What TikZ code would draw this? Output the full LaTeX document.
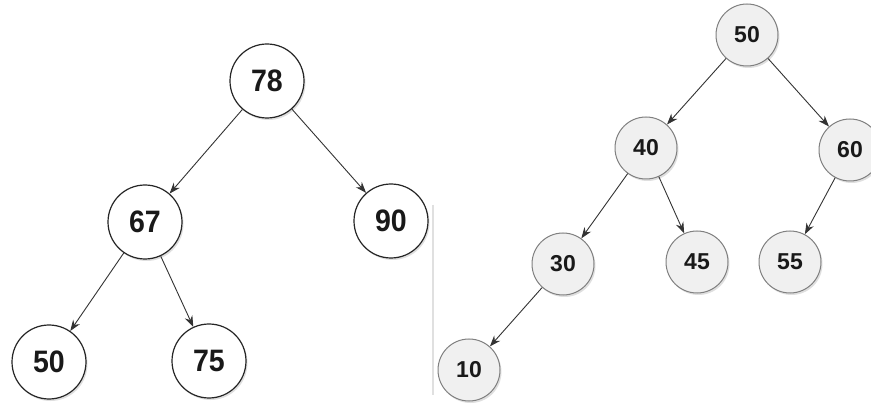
\documentclass[tikz,border=0pt]{standalone}
\usepackage{fontspec}
\setmainfont{Liberation Sans}
\usetikzlibrary{shadows,arrows.meta}
\newcommand{\narrowtxt}[1]{\scalebox{0.92}[1]{#1}}
\begin{document}
\begin{tikzpicture}[x=1pt,y=-1pt,
 lnode/.style={circle,draw=black!85,line width=1.2pt,fill=white,minimum size=74pt,inner sep=0pt,
   font=\fontsize{31}{32}\selectfont\bfseries,text=black!90,
   drop shadow={opacity=0.25,shadow xshift=1.5pt,shadow yshift=-2pt}},
 rnode/.style={circle,draw=black!50,line width=1pt,fill=black!6,minimum size=62pt,inner sep=0pt,
   font=\fontsize{23}{25}\selectfont\bfseries,text=black!90,
   drop shadow={opacity=0.25,shadow xshift=1.5pt,shadow yshift=-2pt}},
 edge/.style={draw=black!80,line width=0.9pt,-{Stealth[length=11pt,width=8pt]}}]
\useasboundingbox (0,0) rectangle (871,406);
\fill[white] (0,0) rectangle (871,406);
% separator
\draw[black!12,line width=1.2pt] (433,205) -- (433,395);
% left tree
\node[lnode] (a78) at (267,81) {\narrowtxt{78}};
\node[lnode] (a67) at (145,222) {\narrowtxt{67}};
\node[lnode] (a90) at (391,221) {\narrowtxt{90}};
\node[lnode] (a50) at (49,362) {\narrowtxt{50}};
\node[lnode] (a75) at (209,361) {\narrowtxt{75}};
\draw[edge] (a78) -- (a67);
\draw[edge] (a78) -- (a90);
\draw[edge] (a67) -- (a50);
\draw[edge] (a67) -- (a75);
% right tree
\node[rnode] (b50) at (747,35) {50};
\node[rnode] (b40) at (646,148) {40};
\node[rnode] (b60) at (850,150) {60};
\node[rnode] (b30) at (563,264) {30};
\node[rnode] (b45) at (697,262) {45};
\node[rnode] (b55) at (790,262) {55};
\node[rnode] (b10) at (469,370) {10};
\draw[edge] (b50) -- (b40);
\draw[edge] (b50) -- (b60);
\draw[edge] (b40) -- (b30);
\draw[edge] (b40) -- (b45);
\draw[edge] (b60) -- (b55);
\draw[edge] (b30) -- (b10);
\end{tikzpicture}
\end{document}
